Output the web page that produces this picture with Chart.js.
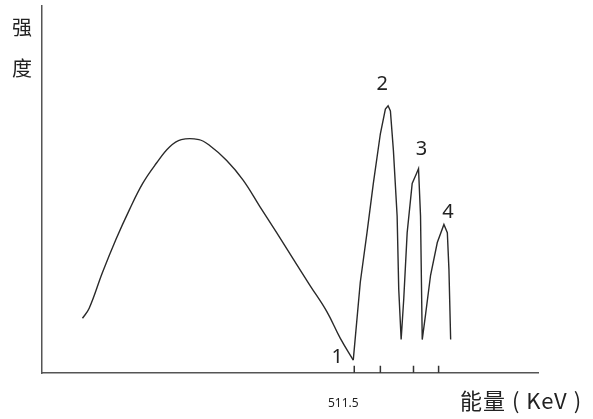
<!DOCTYPE html>
<html>
<head>
<meta charset="utf-8">
<script src="https://cdn.jsdelivr.net/npm/chart.js@4"></script>
<style>
  html, body { margin: 0; padding: 0; background: #fff; }
  #wrap { width: 593px; height: 419px; }
</style>
</head>
<body>
<div id="wrap"><canvas id="canvas"></canvas></div>
<script>
// energy (KeV) and intensity (arbitrary units)
// broad hump (Compton part)
var humpEnergy = [240.8, 247.5, 260.8, 274.2, 287.5, 300.8, 314.2, 327.5, 339.2, 356.8,
  367.5, 384.2, 400.8, 417.5, 434.2, 450.8, 467.5, 484.2, 497.5, 510.5];
var humpIntensity = [14.9, 17.6, 27.4, 36.4, 44.4, 51.6, 57.0, 61.5, 63.5, 63.5,
  61.9, 57.9, 52.5, 45.3, 38.2, 31.0, 23.8, 16.7, 9.5, 3.5];
// sharp peaks 2, 3, 4
var peakEnergyAll = [510.5, 517.5, 524.2, 530.5, 537.5, 542.5, 545.2, 547.5, 550.5, 554.2, 555.8, 558.2,
  560.8, 564.2, 569.2, 573.5, 575.5, 577.5, 579.2,
  582.5, 587.5, 594.2, 600.8, 604.2, 605.8, 607.5];
var peakIntensityAll = [3.5, 24.7, 38.2, 51.6, 65.1, 71.8, 72.7, 71.3, 60.5, 42.7, 22.8, 9.1,
  20.2, 38.2, 51.6, 54.3, 55.6, 42.7, 9.1,
  15.9, 26.6, 35.5, 40.4, 38.2, 28.2, 9.1];

// numbered peaks: position and label
var peakLabels = ['1', '2', '3', '4'];
var peakEnergy = [510.5, 545.2, 575.5, 600.8];
var peakIntensity = [3.5, 72.7, 55.6, 40.4];

// little marks on the energy axis
var markEnergy = [511.5, 537.5, 570.5, 595.5];
var xTickLabel = '511.5';

var yTitle = ['强', '度'];
var xTitle = '能量 ( KeV )';

function pts(xs, ys) {
  return xs.map(function(e, i) { return {x: e, y: ys[i]}; });
}

var labelPlugin = {
  id: 'labels',
  afterDatasetsDraw: function(chart) {
    var ctx = chart.ctx;
    var xs = chart.scales.x, ys = chart.scales.y;
    ctx.save();
    ctx.fillStyle = '#222';
    ctx.textAlign = 'center';
    ctx.textBaseline = 'middle';
    // peak numbers
    var off = [[-16, -3], [-6, -22], [3, -19], [4, -12]];
    ctx.font = '20px "Noto Sans", "DejaVu Sans", sans-serif';
    peakLabels.forEach(function(t, i) {
      var px = xs.getPixelForValue(peakEnergy[i]) + off[i][0];
      var py = ys.getPixelForValue(peakIntensity[i]) + off[i][1];
      ctx.fillText(t, px, py);
    });
    // 511.5 under the axis
    ctx.font = '12px "Noto Sans", "DejaVu Sans", sans-serif';
    ctx.fillText(xTickLabel, xs.getPixelForValue(511.5) - 11, ys.bottom + 31);
    // axis titles
    ctx.font = '20px "Noto Sans CJK SC", sans-serif';
    ctx.fillText(yTitle[0], 22, 27);
    ctx.fillText(yTitle[1], 22, 68);
    ctx.textAlign = 'left';
    ctx.font = '22px "Noto Sans CJK SC", sans-serif';
    var w = ctx.measureText(xTitle).width;
    var sp = Math.max(-1, Math.min(1, (128 - w) / (xTitle.length - 1)));
    ctx.letterSpacing = sp.toFixed(2) + 'px';
    ctx.fillText(xTitle, 460, ys.bottom + 28);
    ctx.restore();
  }
};

var ctxL = document.getElementById('canvas').getContext('2d');
var mychart = new Chart(ctxL, {
  type: 'line',
  data: {
    datasets: [{
        data: pts(humpEnergy, humpIntensity),
        borderColor: '#2a2a2a',
        borderWidth: 1.4,
        pointRadius: 0,
        tension: 0.4,
        fill: false
      },
      {
        data: pts(peakEnergyAll, peakIntensityAll),
        borderColor: '#2a2a2a',
        borderWidth: 1.4,
        pointRadius: 0,
        tension: 0,
        fill: false
      },
      {
        type: 'scatter',
        data: pts(markEnergy, markEnergy.map(function() { return 1; })),
        pointStyle: 'line',
        rotation: 90,
        radius: 3.5,
        borderColor: '#333',
        borderWidth: 1.5
      }
    ]
  },
  options: {
    responsive: true,
    maintainAspectRatio: false,
    animation: false,
    events: [],
    layout: { padding: { left: 42, right: 55, top: 0, bottom: 46 } },
    plugins: { legend: { display: false }, tooltip: { enabled: false } },
    scales: {
      x: {
        type: 'linear',
        min: 200.5,
        max: 694.5,
        grid: { display: false, drawTicks: false },
        ticks: { display: false },
        border: { display: true, color: '#555', width: 1.5 }
      },
      y: {
        min: 0,
        max: 100,
        grid: { display: false, drawTicks: false },
        ticks: { display: false },
        border: { display: true, color: '#555', width: 1.5 }
      }
    }
  },
  plugins: [labelPlugin]
});
</script>
</body>
</html>
